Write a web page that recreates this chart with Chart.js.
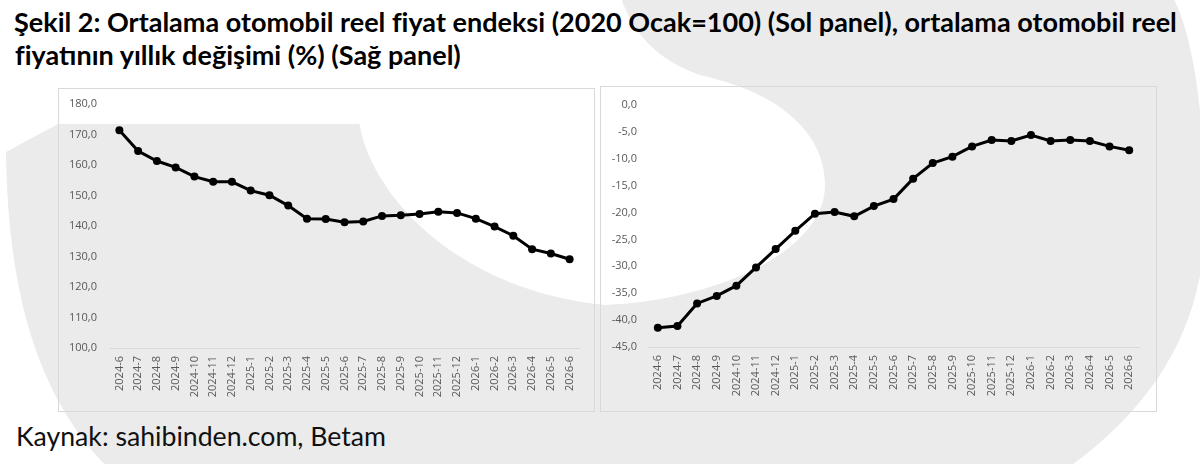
<!DOCTYPE html>
<html lang="tr">
<head>
<meta charset="utf-8">
<script src="https://cdn.jsdelivr.net/npm/chart.js@4/dist/chart.umd.min.js"></script>
<style>
  html, body { margin: 0; padding: 0; background: #fff; }
  body { width: 1200px; height: 464px; position: relative; overflow: hidden; }
  #backdrop { position: absolute; left: 0; top: 0; }
  .panel { position: absolute; border: 1px solid #d9d9d9; box-sizing: border-box; }
  #leftPanel { left: 58px; top: 88px; width: 537px; height: 324px; }
  #rightPanel { left: 600px; top: 86px; width: 557px; height: 326px; }
  .panel canvas { position: absolute; left: 0; top: 0; }
</style>
</head>
<body>
<svg id="backdrop" width="1200" height="464" xmlns="http://www.w3.org/2000/svg">
  <!-- soluk logo filigranı -->
  <path fill="#ebebeb" d="M 58 124 L 420 124 L 420 -5 L 1172 -5 C 1195 40, 1205 120, 1205 220 C 1205 330, 1150 410, 1065 470 L 110 470 C 40 400, 8 300, 6 152 Z"/>
  <path fill="#ffffff" d="M 358 112 C 362 185, 450 290, 605 305 C 720 300, 825 250, 825 185 C 825 140, 790 95, 700 75 C 650 58, 630 25, 620 -5 L 350 -5 Z"/>
  <g font-family="Lato, 'Open Sans', sans-serif" fill="#000">
    <text id="title1" x="14" y="32" font-weight="bold" font-size="22">Şekil 2: Ortalama otomobil reel fiyat endeksi (2020 Ocak=100) (Sol panel), ortalama otomobil reel</text>
    <text id="title2" x="15" y="65" font-weight="bold" font-size="22">fiyatının yıllık değişimi (%) (Sağ panel)</text>
    <text id="source" x="16" y="446" font-size="24" fill="#111">Kaynak: sahibinden.com, Betam</text>
  </g>
</svg>
<div class="panel" id="leftPanel"><canvas id="leftChart"></canvas></div>
<div class="panel" id="rightPanel"><canvas id="rightChart"></canvas></div>
<script>
const months = [
  "2024-6", "2024-7", "2024-8", "2024-9", "2024-10", "2024-11", "2024-12",
  "2025-1", "2025-2", "2025-3", "2025-4", "2025-5", "2025-6", "2025-7", "2025-8",
  "2025-9", "2025-10", "2025-11", "2025-12", "2026-1", "2026-2", "2026-3", "2026-4",
  "2026-5", "2026-6"
];

// Sol panel: ortalama otomobil reel fiyat endeksi (2020 Ocak=100)
const priceIndex = [
  171.4, 164.6, 161.3, 159.2, 156.2, 154.5, 154.5, 151.6, 150.1, 146.7, 142.4, 142.3,
  141.2, 141.5, 143.3, 143.5, 143.9, 144.7, 144.3, 142.4, 139.8, 136.8, 132.4, 131.0, 129.1
];

// Sağ panel: yıllık değişim (%)
const yearlyChange = [
  -41.4, -41.1, -36.9, -35.5, -33.6, -30.2, -26.8, -23.4, -20.2, -19.9, -20.7, -18.8,
  -17.5, -13.7, -10.8, -9.6, -7.7, -6.5, -6.7, -5.6, -6.7, -6.5, -6.7, -7.7, -8.4
];

const leftTicks = { min: 100, max: 180, step: 10 };
const rightTicks = { min: -45, max: 0, step: 5 };

const tickFont = { family: "'Open Sans', sans-serif", size: 11 };
const tickColor = "#595959";

function fmt(v) {
  return Number(v).toFixed(1).replace(".", ",");
}

// fit text widths to the reference
function fitText(id, width) {
  const el = document.getElementById(id);
  const size = parseFloat(el.getAttribute("font-size"));
  const w = el.getComputedTextLength();
  if (w > 0) el.setAttribute("font-size", (size * width / w).toFixed(2));
}
fitText("title1", 1163);
const t1size = document.getElementById("title1").getAttribute("font-size");
document.getElementById("title2").setAttribute("font-size", t1size);
fitText("source", 370);

function createLineChart(canvasId, panelId, values, range, box) {
  const panel = document.getElementById(panelId);
  const ctx = document.getElementById(canvasId);
  ctx.width = panel.clientWidth;
  ctx.height = panel.clientHeight;

  new Chart(ctx, {
    type: "line",
    data: {
      labels: months,
      datasets: [{
        data: values,
        borderColor: "#000",
        backgroundColor: "#000",
        borderWidth: 3,
        pointRadius: 4,
        pointBackgroundColor: "#000",
        pointBorderWidth: 0,
        tension: 0
      }]
    },
    options: {
      responsive: false,
      animation: false,
      layout: { padding: { top: box.top, right: box.right, left: 0, bottom: 0 } },
      plugins: { legend: { display: false }, tooltip: { enabled: false } },
      scales: {
        x: {
          offset: true,
          grid: { display: false, drawTicks: false },
          border: { display: true, color: "#d9d9d9", width: 1 },
          ticks: {
            color: tickColor, font: tickFont, padding: 8,
            autoSkip: false, minRotation: 90, maxRotation: 90
          },
          afterFit: (scale) => { scale.height = box.bottom; }
        },
        y: {
          min: range.min,
          max: range.max,
          // invisible tick marks give the label gap without adding top padding
          grid: { display: true, color: "rgba(0,0,0,0)", drawOnChartArea: false, drawTicks: true, tickLength: box.gap },
          border: { display: false },
          ticks: {
            stepSize: range.step,
            color: tickColor, font: tickFont, padding: 0,
            callback: (v) => fmt(v)
          },
          afterFit: (scale) => { scale.width = box.left; }
        }
      }
    }
  });
}

createLineChart("leftChart", "leftPanel", priceIndex, leftTicks,
  { top: 15, right: 15, bottom: 63, left: 51, gap: 13 });
createLineChart("rightChart", "rightPanel", yearlyChange, rightTicks,
  { top: 18, right: 17, bottom: 64, left: 47, gap: 11 });
</script>
</body>
</html>
